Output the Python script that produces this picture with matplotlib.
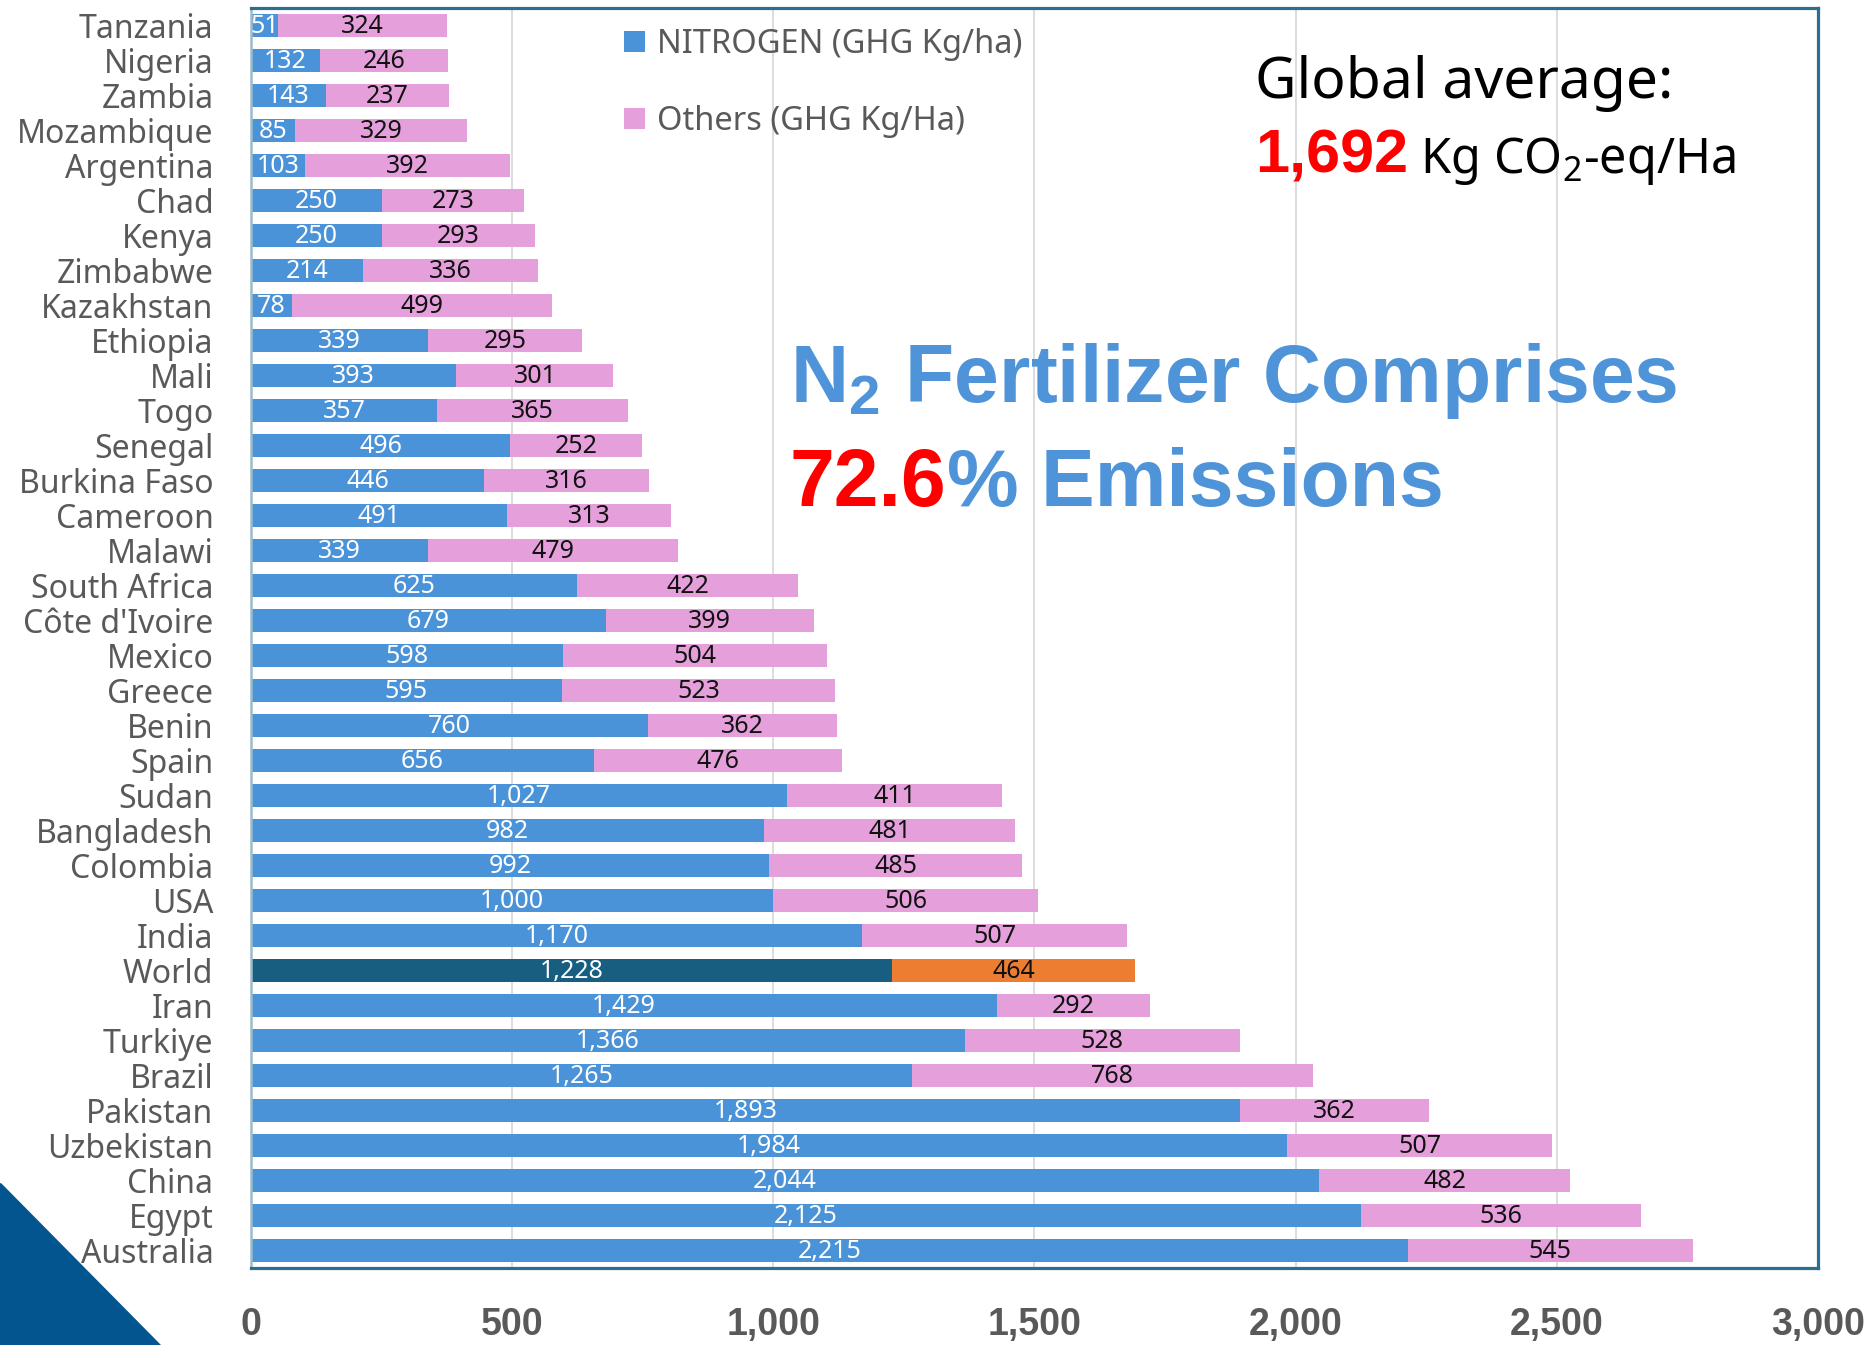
import numpy as np
import matplotlib
matplotlib.use('Agg')
import matplotlib.pyplot as plt
from matplotlib.patches import Polygon

plt.rcParams['font.family'] = ['Noto Sans', 'DejaVu Sans']

# data, top to bottom
countries = ['Tanzania', 'Nigeria', 'Zambia', 'Mozambique', 'Argentina', 'Chad', 'Kenya',
             'Zimbabwe', 'Kazakhstan', 'Ethiopia', 'Mali', 'Togo', 'Senegal', 'Burkina Faso',
             'Cameroon', 'Malawi', 'South Africa', "Côte d'Ivoire", 'Mexico', 'Greece', 'Benin',
             'Spain', 'Sudan', 'Bangladesh', 'Colombia', 'USA', 'India', 'World', 'Iran',
             'Turkiye', 'Brazil', 'Pakistan', 'Uzbekistan', 'China', 'Egypt', 'Australia']
nitrogen = [51, 132, 143, 85, 103, 250, 250, 214, 78, 339, 393, 357, 496, 446, 491, 339,
            625, 679, 598, 595, 760, 656, 1027, 982, 992, 1000, 1170, 1228, 1429, 1366,
            1265, 1893, 1984, 2044, 2125, 2215]
others = [324, 246, 237, 329, 392, 273, 293, 336, 499, 295, 301, 365, 252, 316, 313, 479,
          422, 399, 504, 523, 362, 476, 411, 481, 485, 506, 507, 464, 292, 528, 768, 362,
          507, 482, 536, 545]
xticks = [0, 500, 1000, 1500, 2000, 2500, 3000]

BLUE = '#4b93d9'
PINK = '#e5a0dc'
DARK = '#175e80'
ORANGE = '#ed7d31'
GRAY = '#595959'
ARIAL = ['Liberation Sans', 'DejaVu Sans']

W, H = 1874, 1345
fig = plt.figure(figsize=(W / 100, H / 100), dpi=100)
ax = fig.add_axes([251 / W, 1 - 1268 / H, (1818 - 251) / W, (1268 - 8) / H])

# corner decoration
tri = Polygon([[0, 1 - 1183 / H], [0, 0], [160 / W, 0]], closed=True,
              transform=fig.transFigure, color='#03558f', zorder=0)
fig.patches.append(tri)

y = np.arange(len(countries))
c1 = [DARK if c == 'World' else BLUE for c in countries]
c2 = [ORANGE if c == 'World' else PINK for c in countries]
b1 = ax.barh(y, nitrogen, height=0.65, color=c1, zorder=2, label='NITROGEN (GHG Kg/ha)')
b2 = ax.barh(y, others, left=nitrogen, height=0.65, color=c2, zorder=2,
             label='Others (GHG Kg/Ha)')

for i in range(len(countries)):
    ax.text(nitrogen[i] / 2, y[i] + 0.03, f'{nitrogen[i]:,}', ha='center', va='center',
            color='white', fontsize=18, zorder=3)
    ax.text(nitrogen[i] + others[i] / 2, y[i] + 0.03, f'{others[i]:,}', ha='center',
            va='center', color='#111111', fontsize=18, zorder=3)

ax.set_xlim(0, 3000)
ax.set_ylim(len(countries) - 0.5, -0.5)
ax.set_yticks(y)
ax.set_yticklabels(countries, fontsize=23, color=GRAY)
ax.set_xticks(xticks)
ax.set_xticklabels([f'{v:,}' for v in xticks], fontsize=27, fontweight='bold', color=GRAY,
                   family=ARIAL)
ax.tick_params(axis='x', length=0, pad=28)
ax.tick_params(axis='y', length=0, pad=27)
ax.grid(axis='x', color='#dadada', linewidth=1.3, zorder=0)
ax.set_axisbelow(True)

for s in ['top', 'right', 'bottom']:
    ax.spines[s].set_color('#2d6e8e')
    ax.spines[s].set_linewidth(2.3)
ax.spines['left'].set_color('#9dbccb')
ax.spines['left'].set_linewidth(1.8)

leg = fig.legend(handles=[b1, b2], loc='upper left', bbox_to_anchor=(624 / W, 1 - 28 / H),
                 frameon=False, fontsize=23.5, handlelength=0.65, handleheight=0.65,
                 handletextpad=0.35, labelspacing=1.35, borderpad=0, borderaxespad=0)
for t in leg.get_texts():
    t.set_color(GRAY)

renderer = fig.canvas.get_renderer()


def text_run(x_px, base_px, parts):
    # draws several coloured pieces side by side on one baseline
    x = x_px
    for s, col, kw in parts:
        t = fig.text(x / W, 1 - base_px / H, s, color=col, ha='left', va='baseline', **kw)
        bb = t.get_window_extent(renderer)
        x += bb.width


text_run(1255, 98, [('Global average:', 'black', dict(fontsize=41))])
text_run(1255, 173, [('1,692', '#ff0000', dict(fontsize=44, fontweight='bold', family=ARIAL)),
                     (r' Kg CO$\mathregular{_2}$-eq/Ha', 'black', dict(fontsize=35))])

big = dict(fontsize=58, fontweight='bold', family=ARIAL)
text_run(790, 402, [(r'N$\mathregular{_2}$ Fertilizer Comprises', '#4f94d8', big)])
text_run(790, 506, [('72.6', '#ff0000', big), ('% Emissions', '#4f94d8', big)])

fig.savefig('out.png', dpi=100)
